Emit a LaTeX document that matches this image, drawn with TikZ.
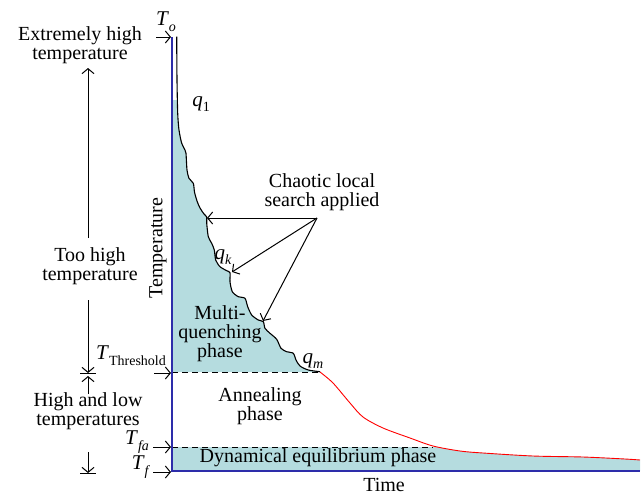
\documentclass[tikz,border=0pt]{standalone}
\usepackage{fontspec}
\setmainfont{Liberation Serif}
\usetikzlibrary{arrows.meta}
\definecolor{tealfill}{RGB}{181,220,223}
\definecolor{axisblue}{RGB}{45,45,170}
\newcommand{\symb}[2]{\textit{#1}\raisebox{-0.28em}{\fontsize{14}{14}\selectfont #2}}
\tikzset{
  lbl/.style={font=\fontsize{20}{19}\selectfont, align=center, inner sep=0pt},
  mlbl/.style={font=\fontsize{21}{21}\selectfont, inner sep=0pt},
  tarrow/.style={-{Straight Barb[length=5pt,width=12pt,line width=1pt]}, line width=1pt},
  plain/.style={line width=1pt},
  curve/.style={line width=1.1pt, line join=round},
  axis/.style={axisblue, line width=1.2pt},
  dashline/.style={dash pattern=on 6pt off 4pt, line width=1pt}
}
\begin{document}
\begin{tikzpicture}[x=1pt,y=-1pt]
\useasboundingbox (0,0) rectangle (642,496);
% fills
\begin{scope}
\clip (172,100) rectangle (340,372);
\fill[tealfill] (172,37) -- plot[smooth,tension=0.45] coordinates{(176.7,36.7) (177,80) (177.7,113.3) (179,130) (181.7,143.3) (185,150) (186,153.3) (187,170) (189,178.3) (193.3,183.3) (194.5,192) (197,201) (200,208) (204,214) (206.7,217) (206.7,223) (208.3,236.7) (211.7,243.3) (214.3,250) (215.7,260) (220,266.7) (226.7,270.7) (230,272.7) (230,281.7) (232.3,291.7) (238.3,296.7) (245,298.3) (247.7,306.7) (251.7,315) (258.3,320) (263.3,321.7) (265,328.3) (270,333.3) (276.7,339.3) (281,348.3) (286.7,351.7) (293.3,353.3) (296,360) (300,366) (308.3,370) (320,371.7)} -- (320,372) -- (172,372) -- cycle;
\end{scope}
\begin{scope}
\clip (172,447) rectangle (641,471);
\fill[tealfill] (172,372) -- (320,372) -- plot[smooth,tension=0.5] coordinates{(320,372) (333,383) (350,403) (363,417) (383,428) (410,438) (433,446) (460,451) (483,453) (533,456) (583,457) (625,459) (640,460)} -- (640,471) -- (172,471) -- cycle;
\end{scope}
% curves
\draw[curve] plot[smooth,tension=0.45] coordinates{(176.7,36.7) (177,80) (177.7,113.3) (179,130) (181.7,143.3) (185,150) (186,153.3) (187,170) (189,178.3) (193.3,183.3) (194.5,192) (197,201) (200,208) (204,214) (206.7,217) (206.7,223) (208.3,236.7) (211.7,243.3) (214.3,250) (215.7,260) (220,266.7) (226.7,270.7) (230,272.7) (230,281.7) (232.3,291.7) (238.3,296.7) (245,298.3) (247.7,306.7) (251.7,315) (258.3,320) (263.3,321.7) (265,328.3) (270,333.3) (276.7,339.3) (281,348.3) (286.7,351.7) (293.3,353.3) (296,360) (300,366) (308.3,370) (320,371.7)};
\draw[red, line width=0.9pt] plot[smooth,tension=0.5] coordinates{(320,372) (333,383) (350,403) (363,417) (383,428) (410,438) (433,446) (460,451) (483,453) (533,456) (583,457) (625,459) (640,460)};
% dashed levels
\coordinate (thA) at (172,372);
\coordinate (thB) at (318,372);
\coordinate (faA) at (172,447);
\coordinate (faB) at (433,447);
\draw[dashline] (thA) -- (thB);
\draw[dashline] (faA) -- (faB);
% axes
\coordinate (origin) at (172,471);
\coordinate (ytop) at (172,37);
\coordinate (xend) at (640,471);
\draw[axis] (ytop) -- (origin) -- (xend);
% labels
\node[mlbl] (To) at (166,22) {\symb{T}{\textit{o}}};
\node[mlbl] (q1) at (201,104) {\symb{q}{1}};
\node[mlbl] (qk) at (223,257) {\symb{q}{\textit{k}}};
\node[mlbl] (qm) at (313,361) {\symb{q}{\textit{m}}};
\node[mlbl] (Tth) at (131,356) {\symb{T}{Threshold}};
\node[mlbl] (Tfa) at (137,442) {\symb{T}{\textit{fa}}};
\node[mlbl] (Tf) at (141,467) {\symb{T}{\textit{f}}};
\node[lbl] (extreme) at (80,45) {Extremely high\\temperature};
\node[lbl] (toohigh) at (90,266) {Too high\\temperature};
\node[lbl] (highlow) at (88,411) {High and low\\temperatures};
\node[lbl, rotate=90] (templbl) at (158,248) {Temperature};
\node[lbl] (time) at (384,485) {Time};
\node[lbl] (chaotic) at (322,192) {Chaotic local\\search applied};
\node[lbl] (multi) at (220,334) {Multi-\\quenching\\phase};
\node[lbl] (anneal) at (260,406) {Annealing\\phase};
\node[lbl] (dyn) at (318,458) {Dynamical equilibrium phase};
% level arrows
\coordinate (a1s) at (156,37);   \coordinate (a1e) at (171,37);
\coordinate (a2s) at (154,373);  \coordinate (a2e) at (171,373);
\coordinate (a3s) at (153,447);  \coordinate (a3e) at (171,447);
\coordinate (a4s) at (153,472);  \coordinate (a4e) at (171,472);
\draw[tarrow] (a1s) -- (a1e);
\draw[tarrow] (a2s) -- (a2e);
\draw[tarrow] (a3s) -- (a3e);
\draw[tarrow] (a4s) -- (a4e);
% range arrows on the left
\coordinate (r1s) at (88,238); \coordinate (r1e) at (88,68);
\coordinate (r2s) at (88,300); \coordinate (r2e) at (88,373);
\coordinate (r3s) at (88,394); \coordinate (r3e) at (88,376);
\coordinate (r4s) at (88,452); \coordinate (r4e) at (88,473);
\draw[tarrow] (r1s) -- (r1e);
\draw[tarrow] (r2s) -- (r2e);
\draw[tarrow] (r3s) -- (r3e);
\draw[tarrow] (r4s) -- (r4e);
\draw[plain] ([xshift=-8pt]r2e) -- ([xshift=8pt]r2e);
\draw[plain] ([xshift=-8pt]r4e) -- ([xshift=8pt]r4e);
% chaotic search arrows
\coordinate (src) at (317,218);
\coordinate (hit1) at (207,218);
\coordinate (hit2) at (232,272);
\coordinate (hit3) at (263,321);
\draw[tarrow] (src) -- (hit1);
\draw[tarrow] (src) -- (hit2);
\draw[tarrow] (src) -- (hit3);
\end{tikzpicture}
\end{document}
